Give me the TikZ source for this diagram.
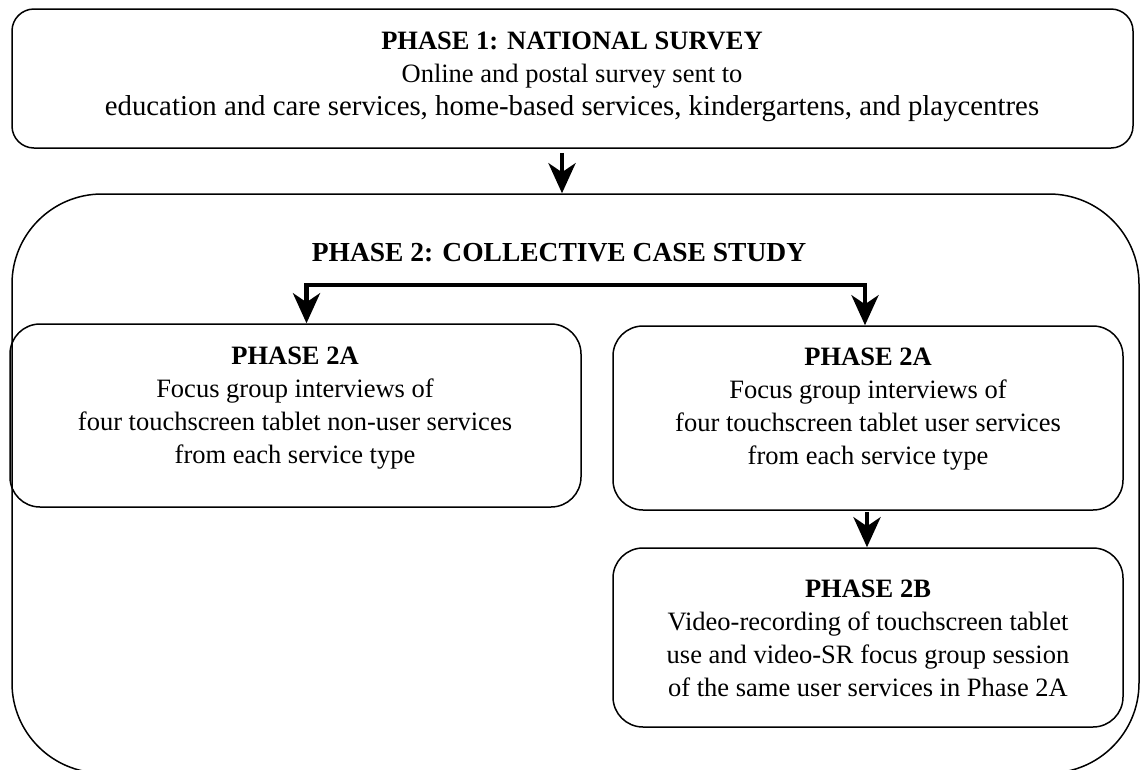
\documentclass[tikz,border=0pt]{standalone}
\usepackage{fontspec}
\setmainfont{Liberation Serif}
\usetikzlibrary{arrows.meta}
\tikzset{
  box/.style={draw, line width=1.5pt, inner sep=0pt, fill=none},
  txt/.style={align=center, font=\fontsize{26.5}{33}\selectfont, inner sep=0pt},
  ttl/.style={align=center, font=\fontsize{27.5}{33}\selectfont\bfseries, inner sep=0pt},
  arr/.style={line width=4.5pt, line join=miter, -{Stealth[length=30pt,width=27pt,inset=9pt]}},
  arr2/.style={line width=4.5pt, line join=miter, {Stealth[length=30pt,width=27pt,inset=9pt]}-{Stealth[length=30pt,width=27pt,inset=9pt]}}
}
\begin{document}
\begin{tikzpicture}[x=1pt,y=-1pt]
\clip (0,0) rectangle (1144,769);
\useasboundingbox (0,0) rectangle (1144,769);
% boxes
\node[box, rounded corners=22pt, minimum width=1121pt, minimum height=139pt] (p1) at (572.5,78.5) {};
\node[box, rounded corners=90pt, minimum width=1127pt, minimum height=579pt] (p2) at (575.5,483.5) {};
\node[box, rounded corners=30pt, minimum width=571pt, minimum height=183pt] (l) at (295.5,415.5) {};
\node[box, rounded corners=30pt, minimum width=510pt, minimum height=184pt] (r) at (868,418) {};
\node[box, rounded corners=30pt, minimum width=510pt, minimum height=179pt] (b) at (868,637.5) {};
% texts
\node[txt] (p1t) at (572,77) {\textbf{PHASE 1: NATIONAL SURVEY}\\Online and postal survey sent to\\{\fontsize{28.8}{33}\selectfont education and care services, home-based services, kindergartens, and playcentres}};
\node[ttl] (p2t) at (559,253) {PHASE 2: COLLECTIVE CASE STUDY};
\node[txt] (lt) at (295,408) {\textbf{PHASE 2A}\\Focus group interviews of\\four touchscreen tablet non-user services\\from each service type};
\node[txt] (rt) at (868,409) {\textbf{PHASE 2A}\\Focus group interviews of\\four touchscreen tablet user services\\from each service type};
\node[txt] (bt) at (868,638) {\textbf{PHASE 2B}\\Video-recording of touchscreen tablet\\use and video-SR focus group session\\of the same user services in Phase 2A};
% connectors
\coordinate (jl) at (306.5,285);
\coordinate (jr) at (865,285);
\draw[arr] (p1.south -| 562,0) ++(0,4) -- (p2.north -| 562,0);
\draw[arr2] (jl |- l.north) -- (jl) -- (jr) -- (jr |- r.north);
\draw[arr] (r.south -| 867,0) ++(0,1) -- (b.north -| 867,0);
\end{tikzpicture}
\end{document}
